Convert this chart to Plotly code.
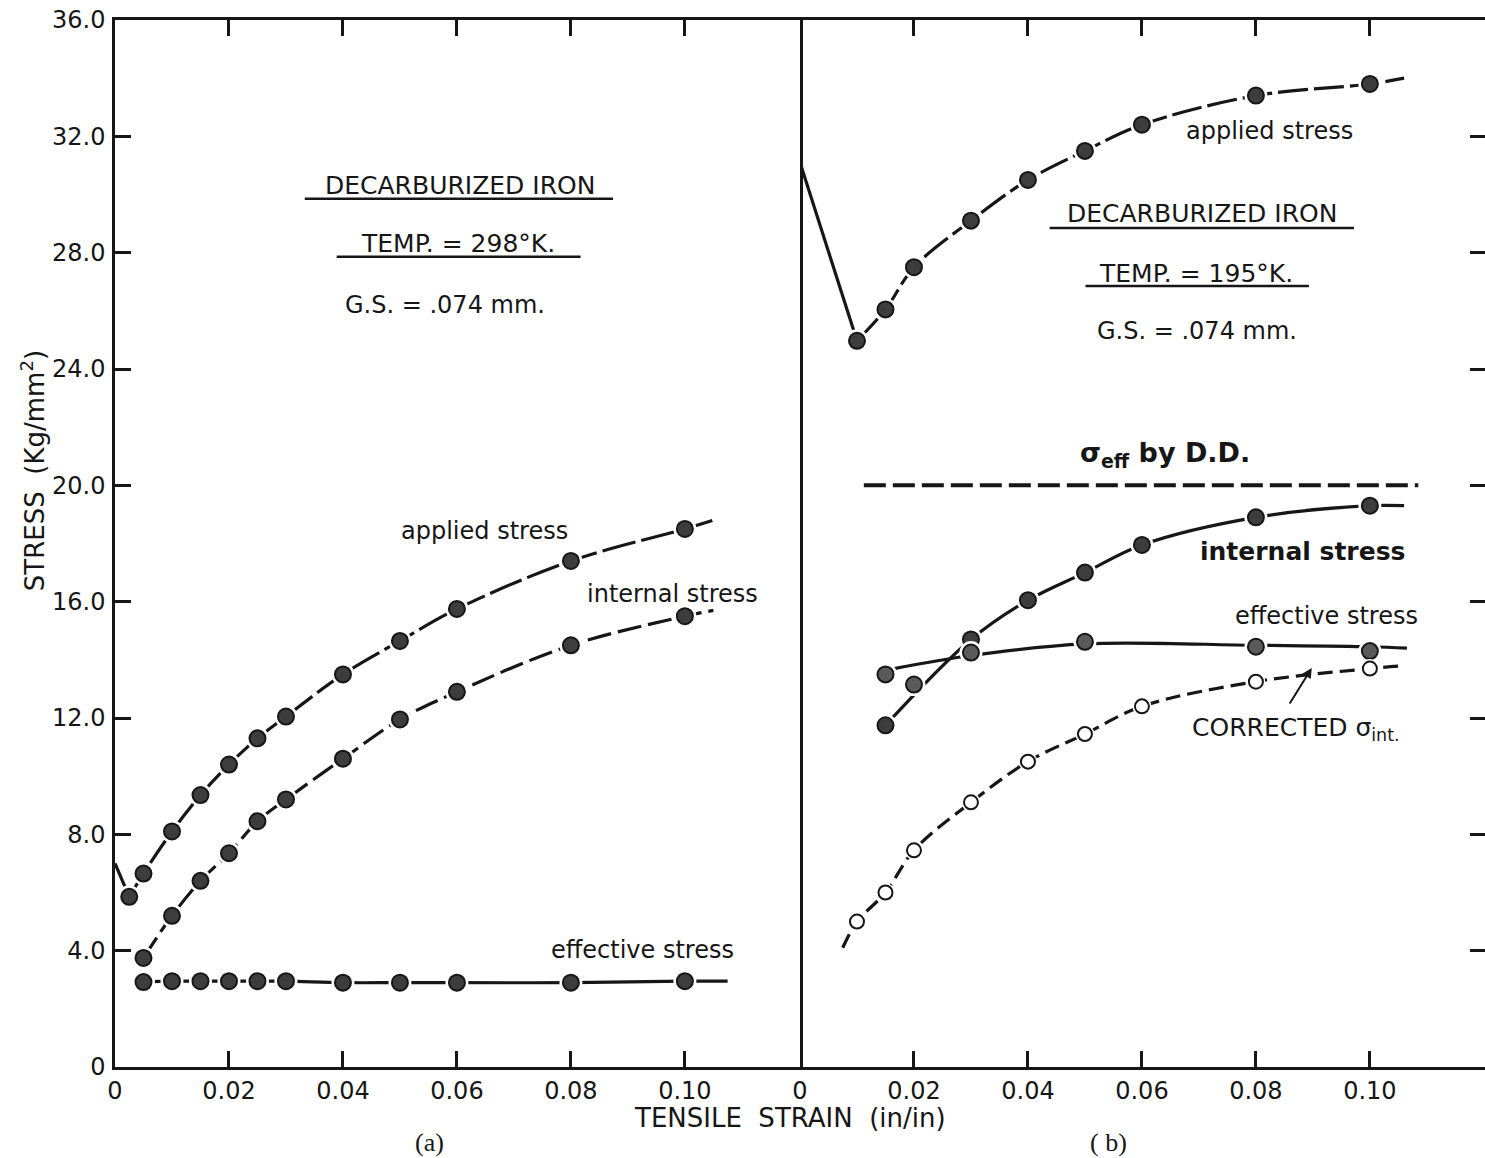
import plotly.graph_objects as go

# ---------------- (a) decarburized iron, 298 K ----------------
strain_a_applied = [0.0025, 0.005, 0.01, 0.015, 0.02, 0.025, 0.03, 0.04, 0.05, 0.06, 0.08, 0.10]
applied_a = [5.85, 6.65, 8.1, 9.35, 10.4, 11.3, 12.05, 13.5, 14.65, 15.75, 17.4, 18.5]

strain_a = [0.005, 0.01, 0.015, 0.02, 0.025, 0.03, 0.04, 0.05, 0.06, 0.08, 0.10]
internal_a = [3.75, 5.2, 6.4, 7.35, 8.45, 9.2, 10.6, 11.95, 12.9, 14.5, 15.5]
effective_a = [2.92, 2.95, 2.95, 2.95, 2.95, 2.95, 2.9, 2.9, 2.9, 2.9, 2.95]

# upper yield drop and curve ends
yield_a_x = [0.0, 0.0025]
yield_a_y = [7.0, 5.85]
applied_a_end = (0.105, 18.8)
internal_a_end = (0.105, 15.7)
effective_a_end = (0.1075, 2.95)

# ---------------- (b) decarburized iron, 195 K ----------------
strain_b_applied = [0.01, 0.015, 0.02, 0.03, 0.04, 0.05, 0.06, 0.08, 0.10]
applied_b = [24.97, 26.05, 27.5, 29.1, 30.5, 31.5, 32.4, 33.4, 33.8]
yield_b_x = [0.0, 0.01]
yield_b_y = [31.1, 24.97]
applied_b_end = (0.106, 34.0)

strain_b_internal = [0.015, 0.03, 0.04, 0.05, 0.06, 0.08, 0.10]
internal_b = [11.75, 14.7, 16.05, 17.0, 17.95, 18.9, 19.3]
internal_b_end = (0.106, 19.3)

strain_b_effective = [0.015, 0.02, 0.03, 0.05, 0.08, 0.10]
effective_b = [13.5, 13.15, 14.25, 14.62, 14.45, 14.3]
effective_b_fit_x = [0.0165, 0.03, 0.05, 0.08, 0.10, 0.1065]
effective_b_fit_y = [13.7, 14.15, 14.55, 14.5, 14.45, 14.4]

strain_b_corr = [0.01, 0.015, 0.02, 0.03, 0.04, 0.05, 0.06, 0.08, 0.10]
corrected_b = [5.0, 6.0, 7.45, 9.1, 10.5, 11.45, 12.4, 13.25, 13.7]
corrected_b_start = (0.0075, 4.1)
corrected_b_end = (0.106, 13.8)

dd_x = [0.0112, 0.1085]
dd_y = [20.0, 20.0]

y_ticks = [0, 4, 8, 12, 16, 20, 24, 28, 32, 36]
y_tick_text = ["0", "4.0", "8.0", "12.0", "16.0", "20.0", "24.0", "28.0", "32.0", "36.0"]
x_ticks = [0, 0.02, 0.04, 0.06, 0.08, 0.10]
x_tick_text = ["0", "0.02", "0.04", "0.06", "0.08", "0.10"]

INK = "#161616"
DOT = "#3d3d3d"
FONT = "DejaVu Sans"

fig = go.Figure()


def curve(x, y, xa, ya, dash="solid", shape="spline", width=3.2):
    fig.add_trace(go.Scatter(
        x=x, y=y, xaxis=xa, yaxis=ya, mode="lines",
        line=dict(color=INK, width=width, dash=dash, shape=shape, smoothing=1.0),
        hoverinfo="skip", showlegend=False))


def dots(x, y, xa, ya, fill=DOT, size=16, halo=23):
    # white ring interrupts the curve around each plotted point
    fig.add_trace(go.Scatter(
        x=x, y=y, xaxis=xa, yaxis=ya, mode="markers",
        marker=dict(size=halo, color="white", line=dict(width=0)),
        hoverinfo="skip", showlegend=False))
    fig.add_trace(go.Scatter(
        x=x, y=y, xaxis=xa, yaxis=ya, mode="markers",
        marker=dict(size=size, color=fill, line=dict(width=2, color=INK)),
        showlegend=False))


# panel (a)
curve(yield_a_x, yield_a_y, "x", "y", shape="linear")
curve(strain_a_applied + [applied_a_end[0]], applied_a + [applied_a_end[1]], "x", "y", dash="34px,6px")
curve(strain_a + [internal_a_end[0]], internal_a + [internal_a_end[1]], "x", "y", dash="24px,7px")
curve(strain_a + [effective_a_end[0]], effective_a + [effective_a_end[1]], "x", "y")
dots(strain_a_applied, applied_a, "x", "y")
dots(strain_a, internal_a, "x", "y")
dots(strain_a, effective_a, "x", "y")

# panel (b)
curve(yield_b_x, yield_b_y, "x2", "y2", shape="linear")
curve(strain_b_applied + [applied_b_end[0]], applied_b + [applied_b_end[1]], "x2", "y2", dash="30px,6px")
curve(strain_b_internal + [internal_b_end[0]], internal_b + [internal_b_end[1]], "x2", "y2")
curve(effective_b_fit_x, effective_b_fit_y, "x2", "y2")
curve([corrected_b_start[0]] + strain_b_corr + [corrected_b_end[0]],
      [corrected_b_start[1]] + corrected_b + [corrected_b_end[1]], "x2", "y2", dash="15px,7px")
curve(dd_x, dd_y, "x2", "y2", dash="22px,7px", shape="linear", width=4)
dots(strain_b_applied, applied_b, "x2", "y2")
dots(strain_b_internal, internal_b, "x2", "y2")
dots(strain_b_effective, effective_b, "x2", "y2", fill="#5a5a5a")
dots(strain_b_corr, corrected_b, "x2", "y2", fill="white", size=14, halo=19)

tick_font = dict(family=FONT, size=24, color=INK)
common_x = dict(range=[0, 0.1202], tickvals=x_ticks, ticktext=x_tick_text, ticks="inside",
                ticklen=16, tickwidth=2.5, tickcolor=INK, showline=True, linecolor=INK,
                linewidth=2.5, mirror="ticks", showgrid=False, zeroline=False,
                tickfont=tick_font, fixedrange=True)

fig.update_layout(
    width=1485, height=1158,
    margin=dict(l=115, r=0, t=20, b=91),
    paper_bgcolor="white", plot_bgcolor="white",
    showlegend=False,
    xaxis=dict(domain=[0, 0.5], anchor="y", **common_x),
    xaxis2=dict(domain=[0.5, 1.0], anchor="y2", **common_x),
    yaxis=dict(range=[0, 36], tickvals=y_ticks, ticktext=y_tick_text, ticks="inside",
               ticklen=16, tickwidth=2.5, tickcolor=INK, showline=True, linecolor=INK,
               linewidth=2.5, mirror=True, showgrid=False, zeroline=False,
               tickfont=tick_font, ticklabelstandoff=2, anchor="x", fixedrange=True),
    yaxis2=dict(range=[0, 36], tickvals=y_ticks[1:-1], ticks="inside", side="right",
                ticklen=15, tickwidth=2.5, tickcolor=INK, showline=False,
                showticklabels=False, showgrid=False, zeroline=False, anchor="x2",
                fixedrange=True),
)

label_font = dict(family=FONT, size=24, color=INK)
head_font = dict(family=FONT, size=25, color=INK)
bold_font = dict(family=FONT, size=25, color=INK, weight="bold")
annots = [
    # panel (a)
    dict(x=0.0605, y=30.3, xref="x", yref="y", text="DECARBURIZED IRON", font=head_font),
    dict(x=0.0602, y=28.3, xref="x", yref="y", text="TEMP. = 298°K.", font=head_font),
    dict(x=0.0579, y=26.2, xref="x", yref="y", text="G.S. = .074 mm.", font=label_font),
    dict(x=0.0649, y=18.43, xref="x", yref="y", text="applied stress", font=label_font),
    dict(x=0.0979, y=16.27, xref="x", yref="y", text="internal stress", font=label_font),
    dict(x=0.0926, y=4.02, xref="x", yref="y", text="effective stress", font=label_font),
    # panel (b)
    dict(x=0.0823, y=32.19, xref="x2", yref="y2", text="applied stress", font=label_font),
    dict(x=0.0706, y=29.33, xref="x2", yref="y2", text="DECARBURIZED IRON", font=head_font),
    dict(x=0.0695, y=27.3, xref="x2", yref="y2", text="TEMP. = 195°K.", font=head_font),
    dict(x=0.0697, y=25.31, xref="x2", yref="y2", text="G.S. = .074 mm.", font=label_font),
    dict(x=0.0641, y=21.05, xref="x2", yref="y2", text="σ<sub>eff</sub> by D.D.",
         font=dict(family=FONT, size=27, color=INK, weight="bold")),
    dict(x=0.0881, y=17.71, xref="x2", yref="y2", text="internal stress", font=bold_font),
    dict(x=0.0923, y=15.51, xref="x2", yref="y2", text="effective stress", font=label_font),
    dict(x=0.0870, y=11.62, xref="x2", yref="y2", text="CORRECTED σ<sub>int.</sub>",
         font=dict(family=FONT, size=25, color=INK)),
    # axis titles and panel tags
    dict(x=0.4927, y=-0.0487, xref="paper", yref="paper",
         text="TENSILE\u00a0 STRAIN\u00a0 (in/in)", font=dict(family=FONT, size=26, color=INK)),
    dict(x=-0.0599, y=0.570, xref="paper", yref="paper",
         text="STRESS\u00a0 (Kg/mm<sup>2</sup>)",
         textangle=-90, font=dict(family=FONT, size=26, color=INK)),
    dict(x=0.2299, y=-0.0717, xref="paper", yref="paper", text="(a)",
         font=dict(family="Liberation Serif", size=26, color=INK)),
    dict(x=0.7255, y=-0.0717, xref="paper", yref="paper", text="( b)",
         font=dict(family="Liberation Serif", size=26, color=INK)),
]
for a in annots:
    a.setdefault("showarrow", False)
    a.setdefault("xanchor", "center")
    a.setdefault("yanchor", "middle")
    fig.add_annotation(**a)

# arrow pointing at the corrected internal-stress curve
fig.add_annotation(x=0.0898, y=13.72, xref="x2", yref="y2", ax=-23, ay=37,
                   showarrow=True, arrowhead=2, arrowsize=1, arrowwidth=2, arrowcolor=INK,
                   text="")

# underlines beneath the specimen headings
underlines = [
    ("x", "y", 0.0333, 0.0874, 29.85),
    ("x", "y", 0.0389, 0.0817, 27.86),
    ("x2", "y2", 0.0438, 0.0972, 28.85),
    ("x2", "y2", 0.0501, 0.0893, 26.85),
]
for xr, yr, x0, x1, yy in underlines:
    fig.add_shape(type="line", xref=xr, yref=yr, x0=x0, x1=x1, y0=yy, y1=yy,
                  line=dict(color=INK, width=2.5))

fig.write_html("out.html")
